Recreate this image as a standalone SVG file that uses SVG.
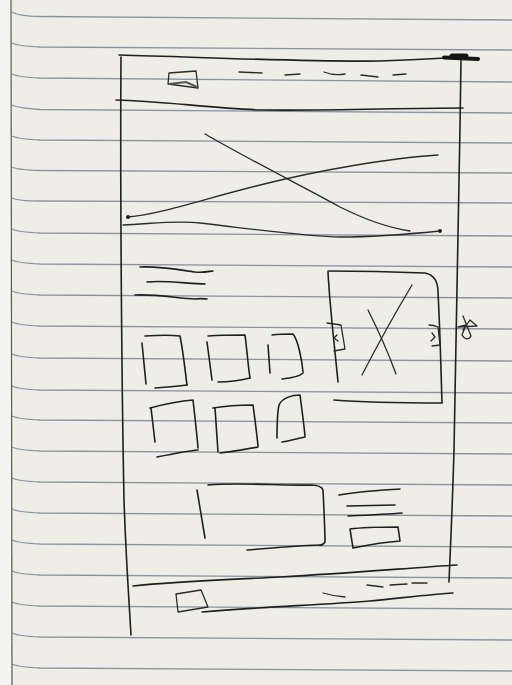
<svg xmlns="http://www.w3.org/2000/svg" width="512" height="685" viewBox="0 0 512 685">
<defs>
<style>
.rule{fill:none;stroke:#8a92a8;stroke-width:1.3}
.ink{fill:none;stroke:#1f1f1f;stroke-width:1.6;stroke-linecap:round;stroke-linejoin:round}
.thin{fill:none;stroke:#2a2a2a;stroke-width:1.3;stroke-linecap:round;stroke-linejoin:round}
</style>
</defs>
<rect width="512" height="685" fill="#efeee6"/>
<rect width="11" height="685" fill="#f4f4f0"/>
<g id="paper-rules">
<path class="rule" d="M12,12 Q18,16 40,16.5 L512,20"/>
<path class="rule" d="M12,43 Q18,46 40,47 L512,50"/>
<path class="rule" d="M12,74 Q18,77 40,78 L512,82"/>
<path class="rule" d="M12,105 Q18,108 40,109.5 L512,113"/>
<path class="rule" d="M12,136 Q18,139 40,140 L512,143"/>
<path class="rule" d="M12,167 Q18,170 40,170.5 L512,173"/>
<path class="rule" d="M12,198 Q18,201 40,201 L512,203"/>
<path class="rule" d="M12,229 Q18,232 40,233 L512,236"/>
<path class="rule" d="M12,260 Q18,263 40,264 L512,267"/>
<path class="rule" d="M12,291 Q18,294 40,295 L512,298"/>
<path class="rule" d="M12,322 Q18,325 40,326 L512,329"/>
<path class="rule" d="M12,354 Q18,357 40,358 L512,361"/>
<path class="rule" d="M12,386 Q18,389 40,390 L512,393"/>
<path class="rule" d="M12,416 Q18,419 40,420 L512,423"/>
<path class="rule" d="M12,447 Q18,450 40,451 L512,454"/>
<path class="rule" d="M12,478 Q18,481 40,482 L512,485"/>
<path class="rule" d="M12,509 Q18,512 40,513 L512,516"/>
<path class="rule" d="M12,540 Q18,543 40,544 L512,547"/>
<path class="rule" d="M12,571 Q18,574 40,575 L512,578"/>
<path class="rule" d="M12,602 Q18,605 40,606 L512,609"/>
<path class="rule" d="M12,633 Q18,636 40,637 L512,640"/>
<path class="rule" d="M12,664 Q18,667 40,668 L512,671"/>
<path d="M11,0 L12,685" stroke="#5a5a5a" stroke-width="1.2" fill="none"/>
</g>
<g id="frame">
<path class="ink" d="M119,55 C200,57 300,62 380,61 C410,60 430,59 445,58"/>
<path d="M444,57.5 L478,59" stroke="#151515" stroke-width="4" stroke-linecap="round" fill="none"/>
<path d="M452,56 L466,56" stroke="#151515" stroke-width="5" stroke-linecap="round" fill="none"/>
<path class="ink" d="M121,57 C120,200 122,400 124,500 C126,560 129,600 131,635"/>
<path class="ink" d="M461,60 C459,200 456,350 454,450 C452,520 450,555 449,582"/>
</g>
<g id="header">
<path class="thin" d="M169,73 L196,71 L198,88 L168,84 Z"/>
<path d="M169,84 L186,82 L197,87" stroke="#555" stroke-width="2" fill="none"/>
<path class="thin" d="M239,72 L262,73"/>
<path class="thin" d="M285,75 L300,74"/>
<path class="thin" d="M324,72 Q334,76 345,74"/>
<path class="thin" d="M361,75 L378,77"/>
<path class="thin" d="M393,75 L406,74"/>
<path class="ink" d="M116,100 C160,101 210,108 260,110 C330,111 400,108 463,108"/>
</g>
<g id="hero">
<path class="thin" d="M205,134 C250,160 300,185 340,207 C370,222 390,228 410,231"/>
<path class="thin" d="M128,217 C160,214 200,200 260,185 C320,170 390,158 438,155"/>
<path class="thin" d="M123,225 C150,224 175,220 200,223 C260,230 310,237 340,237 C380,237 410,234 440,231"/>
<circle cx="128" cy="217" r="2" fill="#1f1f1f"/>
<circle cx="440" cy="231" r="2" fill="#1f1f1f"/>
</g>
<g id="text-block">
<path class="ink" d="M140,267 C160,266 180,270 195,272 C205,273 210,271 213,271"/>
<path class="ink" d="M147,282 C165,280 190,284 205,284"/>
<path class="ink" d="M135,295 C160,294 180,299 195,299 C202,298 205,299 207,299"/>
</g>
<g id="carousel">
<path class="ink" d="M328,272 C330,310 335,350 338,382"/>
<path class="ink" d="M328,271 C360,271 400,272 425,273 C435,275 438,282 438,292 C440,330 441,370 442,403"/>
<path class="ink" d="M334,400 C370,403 410,403 442,403"/>
<path class="thin" d="M412,285 C400,305 380,340 362,375"/>
<path class="thin" d="M368,310 C378,330 388,352 396,374"/>
<path class="thin" d="M327,323 L341,325 L345,349 L334,351"/>
<path class="thin" d="M337,335 L334,338 L338,341"/>
<path class="thin" d="M429,325 C433,325 436,326 438,327 L440,345 L432,346"/>
<path class="thin" d="M432,333 L435,337 L431,341"/>
</g>
<g id="star">
<path class="thin" d="M463,316 L471,336 C469,340 465,340 462,335 L466,325 L458,327 L477,326 L470,320 L463,330"/>
</g>
<g id="tiles">
<path class="ink" d="M142,343 L146,384"/>
<path class="ink" d="M145,336 C160,335 172,335 180,336 C183,350 185,370 187,385"/>
<path class="ink" d="M155,388 C170,387 180,386 187,385"/>
<path class="ink" d="M207,342 L212,380"/>
<path class="ink" d="M208,336 C222,335 235,335 245,335 C247,350 248,365 250,378"/>
<path class="ink" d="M218,382 C230,382 242,380 250,378"/>
<path class="ink" d="M268,345 L270,373"/>
<path class="ink" d="M272,335 C280,334 287,334 293,334 C298,340 302,360 303,372"/>
<path class="ink" d="M282,379 C292,378 300,376 303,373"/>
<path class="ink" d="M150,408 C165,404 180,401 193,400 C195,418 197,435 198,448"/>
<path class="ink" d="M151,408 L155,442"/>
<path class="ink" d="M157,457 C172,454 188,451 198,450"/>
<path class="ink" d="M213,408 C225,406 240,405 253,405 C255,420 257,435 258,446"/>
<path class="ink" d="M215,408 L218,452"/>
<path class="ink" d="M220,453 C235,451 248,449 258,447"/>
<path class="ink" d="M277,438 C277,425 277,414 279,405 C282,398 292,395 300,395 C302,410 304,425 305,436"/>
<path class="ink" d="M282,442 C292,440 300,438 305,437"/>
</g>
<g id="feature">
<path class="ink" d="M197,490 L205,538"/>
<path class="ink" d="M208,485 C240,482 280,486 310,485 C318,485 322,487 323,490 C324,510 325,530 325,542 C323,545 322,545 320,545"/>
<path class="ink" d="M247,550 C275,548 300,545 322,545"/>
<path class="ink" d="M339,495 C360,491 385,490 400,489"/>
<path class="ink" d="M347,506 L395,505"/>
<path class="ink" d="M348,516 C370,515 390,514 402,513"/>
<path class="ink" d="M350,529 C365,527 385,527 398,527 L400,541 C385,542 368,545 353,548 Z"/>
</g>
<g id="footer">
<path class="ink" d="M133,586 C170,582 220,580 280,577 C350,573 410,568 457,565"/>
<path class="thin" d="M176,594 L201,590 L208,607 L178,612 Z"/>
<path class="ink" d="M202,612 C260,607 320,605 370,601 C410,597 435,594 453,593"/>
<path class="thin" d="M323,593 Q333,596 345,597"/>
<path class="thin" d="M367,585 L383,587"/>
<path class="thin" d="M390,585 L407,584"/>
<path class="thin" d="M412,583 L427,583"/>
</g>
</svg>
